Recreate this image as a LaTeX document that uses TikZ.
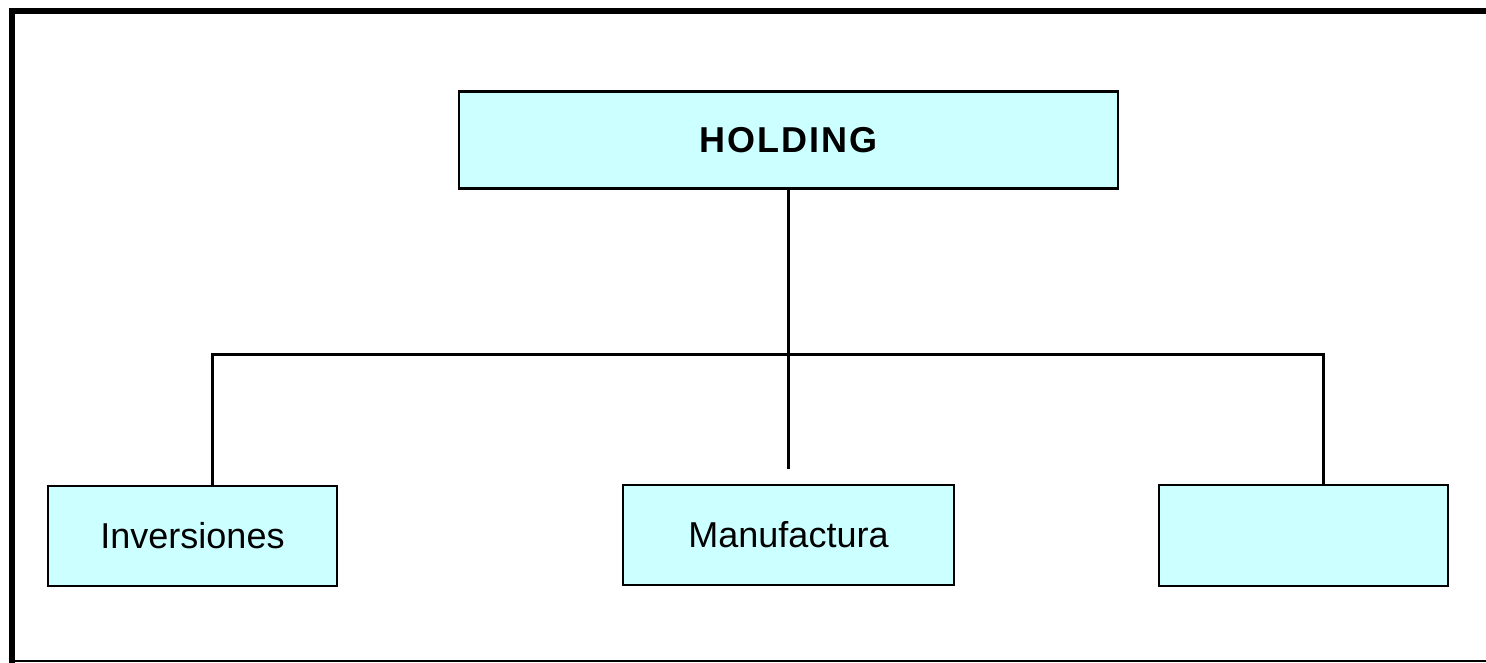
\documentclass[tikz,border=0pt]{standalone}
\usepackage{fontspec}
\setmainfont{Liberation Sans}
\definecolor{boxfill}{HTML}{CCFFFF}
\begin{document}
\begin{tikzpicture}[x=1pt,y=-1pt,
  orgbox/.style={draw=black,line width=2.5pt,fill=boxfill,inner sep=0pt,
    font=\fontsize{36}{40}\selectfont},
  conn/.style={draw=black,line width=3pt}]
\useasboundingbox (0,0) rectangle (1486,663);
% frame
\draw[line width=6pt] (12,663) -- (12,11) -- (1486,11);
\draw[line width=1.5pt] (12,661) -- (1486,661);
% boxes
\node[orgbox,minimum width=659pt,minimum height=97pt] (hold) at (788.5,140)
  {\bfseries\addfontfeatures{LetterSpace=6}HOLDING};
\node[orgbox,minimum width=289pt,minimum height=100pt] (inv) at (192.5,536) {Inversiones};
\node[orgbox,minimum width=331pt,minimum height=100pt] (man) at (788.5,535) {Manufactura};
\node[orgbox,minimum width=289pt,minimum height=101pt] (third) at (1303.5,535.5) {};
% connectors
\coordinate (bl) at (212,354);
\coordinate (br) at (1323,354);
\coordinate (stub) at (788.5,469);
\draw[conn,line width=3.5pt] (hold.south) -- (stub);
\draw[conn,line cap=rect] (bl |- inv.north) -- (bl) -- (br) -- (br |- third.north);
\end{tikzpicture}
\end{document}
